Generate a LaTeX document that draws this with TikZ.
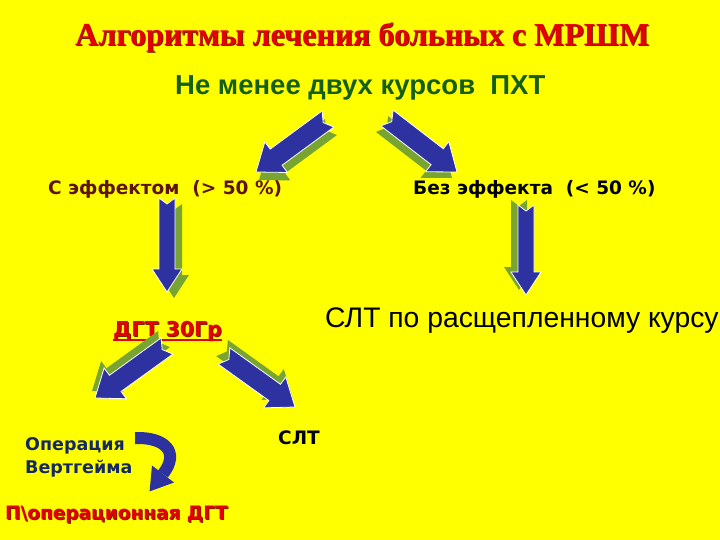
\documentclass[tikz,border=0pt]{standalone}
\usepackage{fontspec}
\setmainfont{Liberation Serif}
\newfontfamily\arialf{Liberation Sans}
\newfontfamily\dejaf{DejaVu Sans}
\usetikzlibrary{calc}
\definecolor{bgyellow}{RGB}{255,255,0}
\definecolor{ablue}{RGB}{46,50,160}
\definecolor{agreen}{RGB}{120,165,50}
\definecolor{tred}{RGB}{228,0,0}
\definecolor{tshadow}{RGB}{120,40,10}
\definecolor{tgreen}{RGB}{20,95,20}
\definecolor{tmaroon}{RGB}{95,20,10}
\definecolor{tnavy}{RGB}{20,40,100}
% block arrow: #1 tail, #2 tip, #3 shaft half width, #4 head half width, #5 head length, #6 style
\newcommand\blockarr[6]{%
  \coordinate (ta) at #1; \coordinate (tb) at #2;
  \coordinate (th) at ($(tb)!#5!(ta)$);
  \path[#6] ($(ta)!#3!90:(tb)$) -- ($(ta)!6pt!(tb)$) -- ($(ta)!#3!-90:(tb)$)
    -- ($(th)!#3!-90:(tb)$) -- ($(th)!#4!-90:(tb)$) -- (tb)
    -- ($(th)!#4!90:(tb)$) -- ($(th)!#3!90:(tb)$) -- cycle;}
\newcommand\shadedarr[4]{% #1 tail, #2 tip, #3 shadow shift, #4 sizes {s}{h}{L}
  \begin{scope}[shift={#3}]\blockarr{#1}{#2}#4{fill=agreen}\end{scope}
  \blockarr{#1}{#2}#4{fill=ablue,draw=white,line width=0.8pt}}
\tikzset{
  lbl/.style={inner sep=0pt, anchor=base west},
  sub/.style={lbl, font=\dejaf\bfseries\fontsize{18.5}{21}\selectfont},
}
\begin{document}
\begin{tikzpicture}[x=1pt,y=-1pt]
\useasboundingbox (0,0) rectangle (720,540);
\fill[bgyellow] (0,0) rectangle (720,540);

% title
\node[lbl, font=\bfseries\fontsize{32}{38}\selectfont, text=tshadow] at (76,47) {Алгоритмы лечения больных с МРШМ};
\node[lbl, font=\bfseries\fontsize{32}{38}\selectfont, text=tred] (title) at (75,46) {Алгоритмы лечения больных с МРШМ};
\node[lbl, font=\arialf\bfseries\fontsize{27.5}{32}\selectfont, text=tgreen] (pxt) at (175,95) {Не менее двух курсов\ \ ПХТ};

% level 2
\node[sub, text=tmaroon] (eff) at (48,195) {С эффектом\ \ (> 50 \%)};
\node[sub, text=black] (noeff) at (413,195) {Без эффекта\ \ (< 50 \%)};

% level 3
\node[lbl, font=\dejaf\bfseries\fontsize{20.5}{24}\selectfont, text=tshadow] at (114,337) {ДГТ 30Гр};
\node[lbl, font=\dejaf\bfseries\fontsize{20.5}{24}\selectfont, text=tred] (dgt) at (113,336) {ДГТ 30Гр};
\draw[tred, line width=1.6pt] ([yshift=-4pt]dgt.base west) -- ([yshift=-4pt]dgt.base east);
\node[lbl, font=\arialf\fontsize{28.3}{33}\selectfont] (slt1) at (325,327) {СЛТ по расщепленному курсу};

% level 4
\node[sub, text=tnavy, font=\dejaf\bfseries\fontsize{17.5}{20}\selectfont] (oper) at (25,450) {Операция};
\node[sub, text=tnavy, font=\dejaf\bfseries\fontsize{17.5}{20}\selectfont] (oper2) at (25,473) {Вертгейма};
\node[sub, text=black] (slt2) at (278,444) {СЛТ};
\node[sub, text=tshadow] at (6,520) {П\textbackslash операционная ДГТ};
\node[sub, text=tred] (post) at (5,519) {П\textbackslash операционная ДГТ};

% block arrows
\shadedarr{(328,119)}{(256,172)}{(3,8)}{{10pt}{19pt}{25pt}}
\shadedarr{(387,118)}{(457,172)}{(-5,6)}{{10pt}{19pt}{25pt}}
\shadedarr{(167,198)}{(167,292)}{(7,6)}{{8pt}{15pt}{23pt}}
\shadedarr{(526,205)}{(526,295)}{(-7,-5)}{{8pt}{15pt}{23pt}}
\shadedarr{(167,346)}{(95,398)}{(-3,-7)}{{10pt}{19pt}{25pt}}
\shadedarr{(224,356)}{(295,407)}{(-2,-8)}{{10pt}{19pt}{25pt}}

% curved arrow
\draw[ablue, line width=12pt] (135,438) .. controls (165,437) and (180,452) .. (163,474);
\fill[ablue] (174,482.5) -- (149.6,491.4) -- (152,465.5) -- cycle;
\end{tikzpicture}
\end{document}
